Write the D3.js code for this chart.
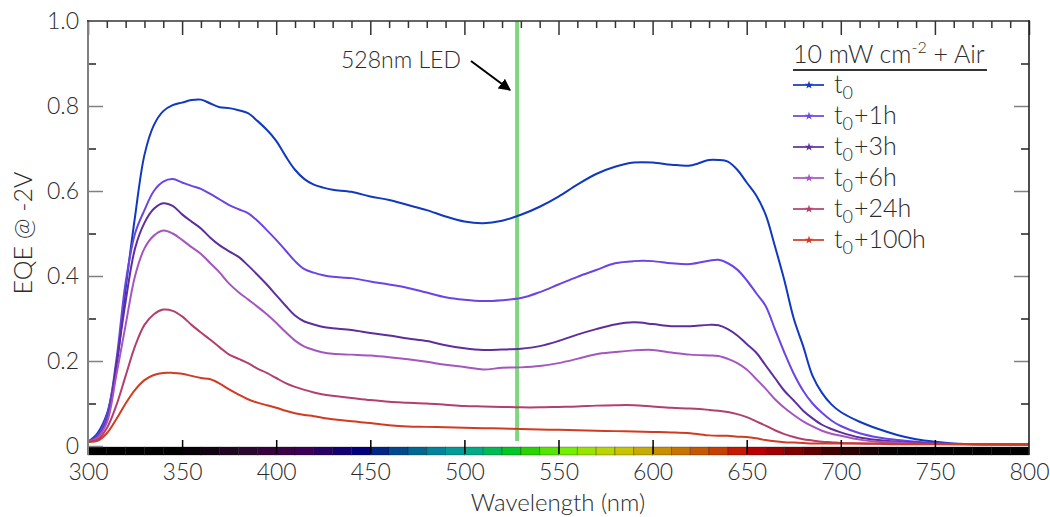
<!DOCTYPE html>
<html><head><meta charset="utf-8">
<script src="https://cdn.jsdelivr.net/npm/d3@7"></script>
<style>
html,body{margin:0;padding:0;background:#fff;}
svg{display:block;font-family:Lato,"Open Sans",sans-serif;font-weight:300;}
</style></head>
<body><svg id="chart" width="1050" height="517"></svg>
<script>
const wavelengths = [300,305,310,315,320,325,330,335,340,345,350,355,360,365,370,375,380,385,390,395,400,405,410,415,420,425,430,
440,450,460,470,480,490,500,510,520,530,540,550,560,570,580,590,600,610,620,630,
635,640,645,650,655,660,665,670,675,680,685,690,695,700,
710,720,730,740,750,760,780,800];

const eqe_t0 = [0.01,0.03,0.075,0.185,0.37,0.54,0.685,0.755,0.788,0.802,0.808,0.814,0.815,0.806,0.797,0.795,0.79,0.783,0.765,0.744,0.718,0.682,0.65,0.628,0.615,0.608,0.603,
0.598,0.587,0.579,0.567,0.555,0.54,0.528,0.524,0.53,0.544,0.563,0.587,0.615,0.64,0.657,0.667,0.667,0.662,0.66,0.673,
0.673,0.669,0.65,0.62,0.59,0.545,0.47,0.39,0.30,0.235,0.165,0.125,0.098,0.08,
0.057,0.04,0.026,0.016,0.01,0.006,0.004,0.003];

const eqe_1h = [0.01,0.025,0.07,0.2,0.385,0.5,0.555,0.6,0.622,0.628,0.62,0.612,0.605,0.593,0.58,0.567,0.557,0.548,0.53,0.508,0.485,0.46,0.435,0.416,0.408,0.402,0.398,
0.395,0.387,0.38,0.372,0.361,0.35,0.344,0.341,0.343,0.348,0.362,0.38,0.398,0.414,0.43,0.435,0.435,0.43,0.428,0.436,
0.438,0.43,0.415,0.39,0.36,0.33,0.275,0.22,0.17,0.13,0.1,0.078,0.06,0.047,
0.03,0.02,0.014,0.01,0.007,0.005,0.004,0.003];

const eqe_3h = [0.01,0.022,0.06,0.19,0.34,0.465,0.525,0.558,0.571,0.565,0.545,0.528,0.512,0.49,0.472,0.458,0.445,0.425,0.403,0.38,0.355,0.33,0.307,0.293,0.286,0.28,0.277,
0.273,0.266,0.26,0.253,0.247,0.237,0.23,0.226,0.227,0.229,0.235,0.247,0.262,0.275,0.286,0.291,0.287,0.282,0.282,0.285,
0.284,0.275,0.26,0.24,0.22,0.19,0.16,0.13,0.107,0.083,0.065,0.05,0.04,0.032,
0.02,0.014,0.01,0.008,0.006,0.005,0.004,0.003];

const eqe_6h = [0.01,0.02,0.055,0.165,0.285,0.4,0.465,0.495,0.507,0.5,0.485,0.468,0.452,0.43,0.408,0.382,0.362,0.345,0.328,0.31,0.29,0.268,0.248,0.234,0.226,0.22,0.217,
0.215,0.213,0.209,0.204,0.198,0.191,0.186,0.18,0.184,0.185,0.188,0.195,0.205,0.216,0.221,0.225,0.226,0.22,0.215,0.213,
0.212,0.205,0.195,0.18,0.158,0.135,0.11,0.09,0.073,0.058,0.046,0.036,0.029,0.024,
0.015,0.01,0.008,0.006,0.005,0.004,0.003,0.003];

const eqe_24h = [0.01,0.015,0.042,0.095,0.165,0.235,0.285,0.31,0.321,0.318,0.305,0.285,0.267,0.25,0.232,0.215,0.205,0.195,0.182,0.172,0.16,0.148,0.139,0.132,0.126,0.121,0.118,
0.113,0.108,0.104,0.102,0.1,0.097,0.094,0.093,0.092,0.091,0.091,0.092,0.093,0.095,0.096,0.096,0.093,0.09,0.088,0.085,
0.083,0.08,0.075,0.068,0.058,0.048,0.037,0.028,0.021,0.016,0.013,0.01,0.009,0.007,
0.006,0.005,0.004,0.004,0.004,0.004,0.004,0.004];

const eqe_100h = [0.01,0.012,0.03,0.063,0.1,0.132,0.155,0.167,0.172,0.172,0.17,0.165,0.16,0.157,0.147,0.133,0.121,0.11,0.102,0.096,0.09,0.083,0.077,0.073,0.07,0.066,0.063,
0.058,0.054,0.049,0.046,0.045,0.044,0.043,0.042,0.041,0.04,0.039,0.038,0.037,0.036,0.035,0.034,0.033,0.032,0.03,0.025,
0.024,0.024,0.022,0.021,0.018,0.014,0.011,0.009,0.008,0.007,0.006,0.006,0.006,0.006,
0.006,0.006,0.005,0.005,0.005,0.005,0.005,0.005];

const seriesNames = ["0", "0+1h", "0+3h", "0+6h", "0+24h", "0+100h"];
const seriesValues = [eqe_t0, eqe_1h, eqe_3h, eqe_6h, eqe_24h, eqe_100h];
const seriesColors = ["#1038c0", "#6a44e4", "#5e2e9e", "#a456bf", "#b33f6e", "#d13b22"];

const xTicks = [300,350,400,450,500,550,600,650,700,750,800];
const yTicks = [0,0.2,0.4,0.6,0.8,1.0];
const ledWavelength = 528;
const legendTitle = "10 mW cm";

// spectrum colour stops for the wavelength bar
const spectrumStops = [[300,"#000000"],[345,"#000000"],[360,"#0c020c"],[380,"#260828"],[400,"#3b0342"],[415,"#3c0058"],[430,"#1e0070"],[445,"#000080"],
[460,"#003a8c"],[475,"#006894"],[490,"#0095a0"],[505,"#00ac88"],[515,"#00ba55"],[525,"#00c825"],[535,"#28d400"],[545,"#55e600"],[555,"#72f000"],
[565,"#98e400"],[575,"#b8d600"],[585,"#c8c400"],[595,"#c8ac00"],[605,"#c89000"],[615,"#c87400"],[625,"#c85800"],[635,"#c84000"],[645,"#c81800"],
[655,"#b80000"],[665,"#9e0000"],[675,"#800000"],[685,"#600000"],[695,"#420000"],[705,"#2a0000"],[715,"#180000"],[725,"#080000"],[735,"#000000"],[800,"#000000"]];

const svg = d3.select("#chart");
const x = d3.scaleLinear().domain([300,800]).range([88,1029]);
const y = d3.scaleLinear().domain([0,1]).range([446,21]);
const spec = d3.scaleLinear().domain(spectrumStops.map(d=>d[0])).range(spectrumStops.map(d=>d[1])).interpolate(d3.interpolateRgb);

const textColor = "#2b2b2b";

// colour bar
const bins = d3.range(300,800,10);
svg.append("g").selectAll("rect").data(bins).join("rect")
  .attr("x", d=>x(d)).attr("width", d=>x(d+10)-x(d))
  .attr("y", 447).attr("height", 8)
  .attr("fill", d=>spec(d+5))
  .attr("stroke", "rgba(0,0,0,0.35)").attr("stroke-width", 0.8);

// LED line
svg.append("line").attr("x1", x(ledWavelength)).attr("x2", x(ledWavelength))
  .attr("y1", y(1)).attr("y2", 441).attr("stroke", "#7fd67f").attr("stroke-width", 4);

// curves
const line = d3.line().x((d,i)=>x(wavelengths[i])).y(d=>y(d)).curve(d3.curveCatmullRom.alpha(0.5));
seriesValues.forEach((vals,k)=>{
  svg.append("path").datum(vals).attr("d", line).attr("fill","none")
    .attr("stroke", seriesColors[k]).attr("stroke-width", 2);
});

// axes
function styleAxis(g, color){
  g.select(".domain").remove();
  g.selectAll(".tick line").attr("stroke", color).attr("stroke-width", 1.5);
  g.selectAll(".tick text").attr("fill", textColor).style("font-size","23px").style("font-family","Lato, sans-serif").style("font-weight","300");
}
const minorX = d3.range(300,801,10).filter(d=>d%50!==0);
const minorY = d3.range(0.1,1.0,0.2);

// top
svg.append("g").attr("transform","translate(0,21)")
  .call(d3.axisTop(x).tickValues(minorX).tickSize(-7).tickFormat(""))
  .call(g=>styleAxis(g,"#333"));
svg.append("g").attr("transform","translate(0,21)")
  .call(d3.axisTop(x).tickValues(xTicks).tickSize(-14).tickFormat(""))
  .call(g=>styleAxis(g,"#333"));

// bottom
svg.append("g").attr("transform","translate(0,454)")
  .call(d3.axisBottom(x).tickValues(xTicks).tickSize(-14).tickPadding(10).tickFormat(d3.format("d")))
  .call(g=>styleAxis(g,"#000"))
  .call(g=>g.selectAll(".tick").filter(d=>d===300||d===800).select("line").remove());

// left
svg.append("g").attr("transform","translate(88,0)")
  .call(d3.axisLeft(y).tickValues(yTicks).tickSize(-15).tickPadding(9).tickFormat(d=>d===0?"0":d3.format(".1f")(d)))
  .call(g=>styleAxis(g,"#808080"))
  .call(g=>g.selectAll(".tick").filter(d=>d===1).select("line").remove());
svg.append("g").attr("transform","translate(88,0)")
  .call(d3.axisLeft(y).tickValues(minorY).tickSize(-8).tickFormat(""))
  .call(g=>styleAxis(g,"#222"));

// right
svg.append("g").attr("transform","translate(1029,0)")
  .call(d3.axisRight(y).tickValues(yTicks.filter(d=>d>0&&d<1)).tickSize(-15).tickFormat(""))
  .call(g=>styleAxis(g,"#808080"));
svg.append("g").attr("transform","translate(1029,0)")
  .call(d3.axisRight(y).tickValues(minorY).tickSize(-8).tickFormat(""))
  .call(g=>styleAxis(g,"#222"));

// frame lines
svg.append("line").attr("x1",88).attr("x2",88).attr("y1",20).attr("y2",455).attr("stroke","#808080").attr("stroke-width",2);
svg.append("line").attr("x1",87).attr("x2",1029).attr("y1",21).attr("y2",21).attr("stroke","#333").attr("stroke-width",1.6);
svg.append("line").attr("x1",1029).attr("x2",1029).attr("y1",20).attr("y2",455).attr("stroke","#222").attr("stroke-width",1.6);

// axis titles
svg.append("text").attr("x",558).attr("y",511).attr("text-anchor","middle")
  .attr("fill",textColor).style("font-size","24px").text("Wavelength (nm)");
svg.append("text").attr("transform","translate(32,233) rotate(-90)").attr("text-anchor","middle")
  .attr("fill",textColor).style("font-size","25px").text("EQE @ -2V");

// annotation
svg.append("text").attr("x",341).attr("y",68).attr("fill",textColor).style("font-size","23px").text("528nm LED");
svg.append("defs").append("marker").attr("id","arr").attr("viewBox","0 0 10 10").attr("refX",9).attr("refY",5)
  .attr("markerWidth",6).attr("markerHeight",6).attr("orient","auto")
  .append("path").attr("d","M0,0 L10,5 L0,10 z").attr("fill","#000");
svg.append("line").attr("x1",471).attr("y1",61).attr("x2",510).attr("y2",90)
  .attr("stroke","#000").attr("stroke-width",2).attr("marker-end","url(#arr)");

// legend
const lg = svg.append("g");
const title = lg.append("text").attr("x",793).attr("y",63).attr("fill",textColor).style("font-size","25px");
title.append("tspan").text(legendTitle);
title.append("tspan").attr("dy",-10).style("font-size","16px").text("-2");
title.append("tspan").attr("dy",10).text(" + Air");
lg.append("line").attr("x1",793).attr("x2",987).attr("y1",70).attr("y2",70).attr("stroke","#333").attr("stroke-width",2);

const star = d3.symbol().type(d3.symbolStar).size(22);
seriesNames.forEach((name,k)=>{
  const ry = 85 + k*31;
  lg.append("line").attr("x1",793).attr("x2",824).attr("y1",ry).attr("y2",ry)
    .attr("stroke",seriesColors[k]).attr("stroke-width",2).attr("opacity",0.85);
  lg.append("path").attr("d",star).attr("transform",`translate(809,${ry})`).attr("fill",seriesColors[k]);
  const t = lg.append("text").attr("x",834).attr("y",ry+8).attr("fill",textColor).style("font-size","25px");
  t.append("tspan").text("t");
  t.append("tspan").attr("dy",6).style("font-size","18px").text("0");
  t.append("tspan").attr("dy",-6).attr("dx",1).text(name.slice(1));
});
</script>
</body></html>
